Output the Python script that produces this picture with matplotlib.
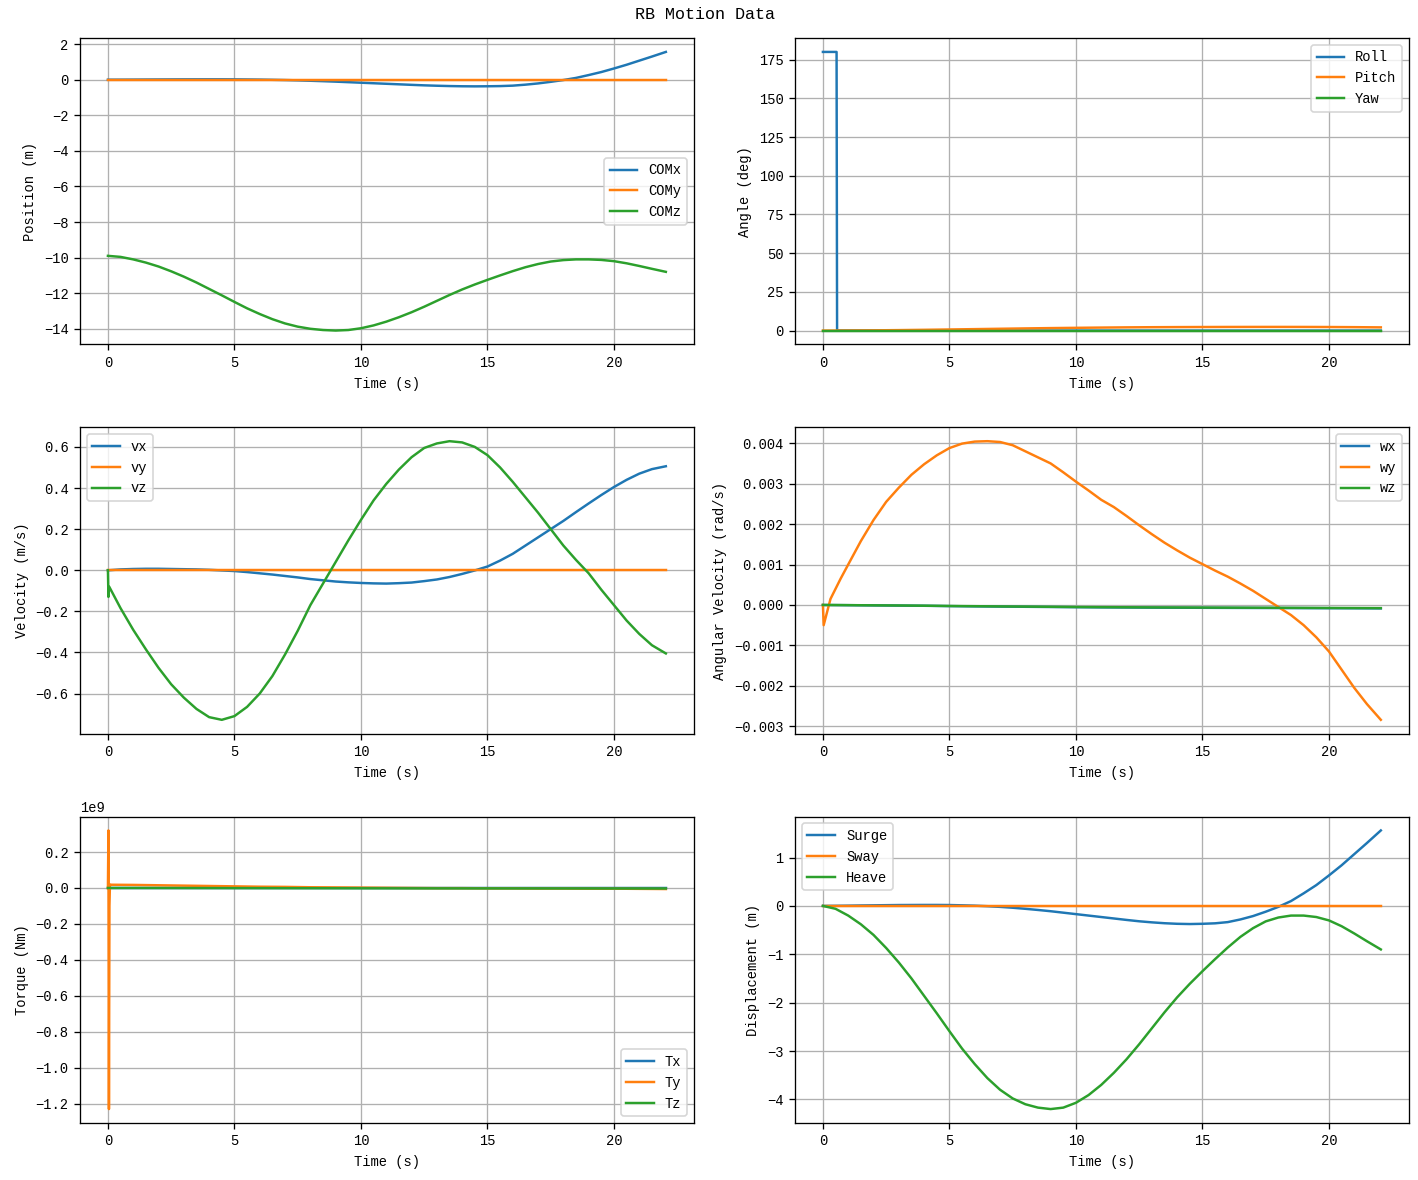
import matplotlib
matplotlib.use('Agg')
import matplotlib.pyplot as plt

plt.rcParams['font.family'] = ['Liberation Mono', 'DejaVu Sans Mono']
plt.rcParams['font.size'] = 8.4

# time base (s), half-second steps
t = [0, 0.5, 1, 1.5, 2, 2.5, 3, 3.5, 4, 4.5, 5, 5.5, 6, 6.5, 7, 7.5, 8, 8.5, 9, 9.5, 10, 10.5,
     11, 11.5, 12, 12.5, 13, 13.5, 14, 14.5, 15, 15.5, 16, 16.5, 17, 17.5, 18, 18.5, 19, 19.5,
     20, 20.5, 21, 21.5, 22.05]

# centre of mass position (m)
com_x = [0, 0.002, 0.005, 0.009, 0.012, 0.015, 0.018, 0.019, 0.02, 0.02, 0.018, 0.012, 0.005,
         -0.006, -0.02, -0.038, -0.06, -0.084, -0.11, -0.14, -0.17, -0.2, -0.23, -0.26, -0.29,
         -0.318, -0.34, -0.358, -0.37, -0.375, -0.37, -0.36, -0.335, -0.28, -0.21, -0.12, -0.02,
         0.1, 0.26, 0.43, 0.63, 0.84, 1.07, 1.3, 1.56]
com_y = [0] * 45
com_z = [-9.9, -9.96, -10.1, -10.28, -10.5, -10.77, -11.07, -11.4, -11.76, -12.12, -12.49, -12.85,
         -13.17, -13.46, -13.7, -13.88, -14.0, -14.07, -14.1, -14.07, -13.97, -13.81, -13.6, -13.35,
         -13.07, -12.76, -12.43, -12.1, -11.79, -11.51, -11.25, -11.0, -10.76, -10.54, -10.36,
         -10.22, -10.14, -10.1, -10.1, -10.13, -10.2, -10.32, -10.47, -10.63, -10.8]

# attitude (deg)
t_ang = [0, 0.02, 0.54, 0.56, 1, 2, 3, 4, 5, 6, 7, 8, 9, 10, 11, 12, 13, 14, 15, 16, 17, 18, 19, 20, 21, 22.05]
roll = [180, 180, 180] + [0] * 23
pitch = [0, 0, 0.02, 0.02, 0.05, 0.14, 0.3, 0.49, 0.7, 0.93, 1.16, 1.39, 1.6, 1.77, 1.93, 2.07,
         2.17, 2.24, 2.29, 2.33, 2.35, 2.36, 2.34, 2.29, 2.2, 2.06]
yaw = [0] * 26

# linear velocity (m/s)
t_vel = [0, 0.02, 0.05] + t[1:]
vx = [0, 0, 0, 0.004, 0.006, 0.007, 0.007, 0.006, 0.005, 0.004, 0.002, -0.001, -0.004, -0.009,
      -0.015, -0.021, -0.028, -0.035, -0.043, -0.049, -0.055, -0.059, -0.062, -0.064, -0.065,
      -0.063, -0.06, -0.053, -0.045, -0.033, -0.018, -0.001, 0.018, 0.047, 0.08, 0.12, 0.16, 0.2,
      0.24, 0.283, 0.325, 0.366, 0.405, 0.44, 0.47, 0.492, 0.506]
vy = [0] * 47
vz = [0, -0.13, -0.08, -0.185, -0.29, -0.385, -0.475, -0.555, -0.62, -0.675, -0.715, -0.728, -0.71,
      -0.665, -0.6, -0.515, -0.41, -0.295, -0.17, -0.065, 0.04, 0.145, 0.245, 0.34, 0.42, 0.49,
      0.55, 0.595, 0.617, 0.628, 0.622, 0.6, 0.56, 0.5, 0.43, 0.355, 0.28, 0.2, 0.12, 0.05, -0.015,
      -0.095, -0.17, -0.245, -0.31, -0.365, -0.405]

# angular velocity (rad/s)
t_w = [0, 0.03, 0.3, 0.7, 1, 1.5, 2, 2.5, 3, 3.5, 4, 4.5, 5, 5.5, 6, 6.5, 7, 7.5, 8, 8.5, 9, 9.5,
       10, 10.5, 11, 11.5, 12, 12.5, 13, 13.5, 14, 14.5, 15, 15.5, 16, 16.5, 17, 17.5, 18, 18.5,
       19, 19.5, 20, 20.5, 21, 21.5, 22.05]
wy = [0, -0.0005, 0.00015, 0.00065, 0.001, 0.00158, 0.0021, 0.00255, 0.0029, 0.00322, 0.00348,
      0.0037, 0.00388, 0.00399, 0.00404, 0.00405, 0.00403, 0.00395, 0.0038, 0.00365, 0.0035,
      0.00328, 0.00305, 0.00283, 0.0026, 0.00242, 0.0022, 0.00197, 0.00175, 0.00154, 0.00135,
      0.00117, 0.00101, 0.00085, 0.0007, 0.00053, 0.00035, 0.00015, -0.00005, -0.00025, -0.0005,
      -0.0008, -0.00115, -0.0016, -0.00205, -0.00245, -0.00284]
t_w_small = [0, 1, 2, 3, 4, 5, 6, 7, 8, 9, 10, 11, 12, 13, 14, 15, 16, 17, 18, 19, 20, 21, 22.05]
wx = [0, -0.000005, -0.00001, -0.000015, -0.00002, -0.000028, -0.000035, -0.00004, -0.000045,
      -0.00005, -0.000055, -0.00006, -0.000063, -0.000066, -0.000068, -0.00007, -0.000072,
      -0.000074, -0.000076, -0.000078, -0.00008, -0.000082, -0.000085]
wz = [0, -0.000004, -0.000009, -0.000013, -0.000018, -0.000025, -0.00003, -0.000036, -0.00004,
      -0.000045, -0.00005, -0.000054, -0.000057, -0.00006, -0.000062, -0.000064, -0.000066,
      -0.000068, -0.00007, -0.000072, -0.000074, -0.000076, -0.000078]

# torque (Nm)
t_tq = [0, 0.02, 0.04, 0.06, 0.08, 0.1, 1, 2, 3, 4, 5, 6, 7, 8, 9, 10, 11, 12, 13, 14, 15, 16, 17,
        18, 19, 20, 21, 22.05]
tx = [0] * 28
ty = [0, 0.32e9, -1.23e9, -0.1e9, 0.02e9, 0.018e9, 0.017e9, 0.015e9, 0.013e9, 0.011e9, 0.009e9,
      0.007e9, 0.006e9, 0.004e9, 0.003e9, 0.002e9, 0.001e9, 0.0, -0.001e9, -0.001e9, -0.002e9,
      -0.002e9, -0.003e9, -0.003e9, -0.004e9, -0.004e9, -0.005e9, -0.006e9]
tz = [0, 0, 0, 0, 0, 0, 0, -0.0002e9, -0.0004e9, -0.0006e9, -0.0008e9, -0.001e9, -0.0012e9,
      -0.0014e9, -0.0016e9, -0.0018e9, -0.002e9, -0.0021e9, -0.0022e9, -0.0023e9, -0.0024e9,
      -0.0025e9, -0.0026e9, -0.0027e9, -0.0028e9, -0.0029e9, -0.003e9, -0.0031e9]

# displacement from start (m)
surge = com_x
sway = com_y
heave = [0, -0.06, -0.2, -0.38, -0.6, -0.87, -1.17, -1.5, -1.86, -2.22, -2.59, -2.95, -3.27,
         -3.56, -3.8, -3.98, -4.1, -4.17, -4.2, -4.17, -4.07, -3.91, -3.7, -3.45, -3.17, -2.86,
         -2.53, -2.2, -1.89, -1.61, -1.35, -1.1, -0.86, -0.64, -0.46, -0.32, -0.24, -0.2, -0.2,
         -0.23, -0.3, -0.42, -0.57, -0.73, -0.9]

fig, axs = plt.subplots(3, 2, figsize=(12.025, 10), dpi=118)
fig.subplots_adjust(left=0.0564, right=0.9928, top=0.9678, bottom=0.0483, wspace=0.165, hspace=0.27)
fig.suptitle('RB Motion Data', fontsize=10.2, x=0.497, y=0.994)

ax = axs[0, 0]
ax.plot(t, com_x, label='COMx')
ax.plot(t, com_y, label='COMy')
ax.plot(t, com_z, label='COMz')
ax.set_xlabel('Time (s)')
ax.set_ylabel('Position (m)')
ax.legend(loc='center right')
ax.grid(True)

ax = axs[0, 1]
ax.plot(t_ang, roll, label='Roll')
ax.plot(t_ang, pitch, label='Pitch')
ax.plot(t_ang, yaw, label='Yaw')
ax.set_xlabel('Time (s)')
ax.set_ylabel('Angle (deg)')
ax.legend(loc='upper right')
ax.grid(True)

ax = axs[1, 0]
ax.plot(t_vel, vx, label='vx')
ax.plot(t_vel, vy, label='vy')
ax.plot(t_vel, vz, label='vz')
ax.set_xlabel('Time (s)')
ax.set_ylabel('Velocity (m/s)')
ax.legend(loc='upper left')
ax.grid(True)

ax = axs[1, 1]
ax.plot(t_w_small, wx, label='wx')
ax.plot(t_w, wy, label='wy')
ax.plot(t_w_small, wz, label='wz')
ax.set_xlabel('Time (s)')
ax.set_ylabel('Angular Velocity (rad/s)')
ax.legend(loc='upper right')
ax.grid(True)

ax = axs[2, 0]
ax.plot(t_tq, tx, label='Tx')
ax.plot(t_tq, ty, label='Ty')
ax.plot(t_tq, tz, label='Tz')
ax.set_xlabel('Time (s)')
ax.set_ylabel('Torque (Nm)')
ax.legend(loc='lower right')
ax.grid(True)

ax = axs[2, 1]
ax.plot(t, surge, label='Surge')
ax.plot(t, sway, label='Sway')
ax.plot(t, heave, label='Heave')
ax.set_xlabel('Time (s)')
ax.set_ylabel('Displacement (m)')
ax.legend(loc='upper left')
ax.grid(True)

plt.savefig('out.png')
